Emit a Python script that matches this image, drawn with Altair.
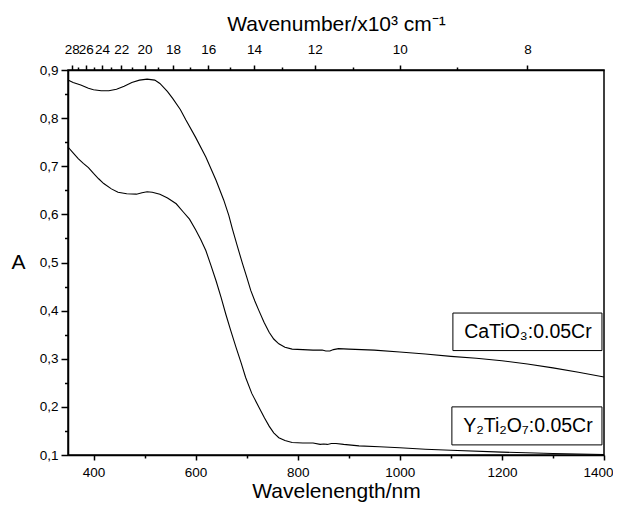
import altair as alt
import pandas as pd

# ---------------- data ----------------
ca_nm = [350, 360, 375, 390, 400, 415, 430, 445, 460, 475, 490, 505, 520, 530, 545, 555,
         570, 581, 600, 620, 640, 655, 665, 672, 682, 692, 700, 708, 716, 724, 734, 744,
         753, 763, 775, 789, 810, 830, 848, 855, 863, 870, 880, 900, 950, 1000, 1050,
         1100, 1150, 1200, 1250, 1300, 1350, 1400]
ca_a = [0.879, 0.874, 0.869, 0.862, 0.859, 0.857, 0.857, 0.860, 0.866, 0.874, 0.879, 0.881,
        0.879, 0.872, 0.855, 0.841, 0.818, 0.796, 0.760, 0.719, 0.671, 0.630, 0.598, 0.570,
        0.533, 0.497, 0.470, 0.442, 0.420, 0.400, 0.376, 0.355, 0.341, 0.331, 0.324, 0.320,
        0.319, 0.318, 0.318, 0.316, 0.316, 0.319, 0.321, 0.320, 0.318, 0.314, 0.310, 0.305,
        0.301, 0.296, 0.289, 0.281, 0.272, 0.262]

yt_nm = [350, 360, 370, 380, 390, 400, 410, 420, 435, 448, 465, 484, 495, 505, 515, 530,
         545, 562, 575, 588, 600, 610, 620, 630, 640, 650, 659, 669, 679, 689, 698, 710,
         724, 735, 744, 753, 763, 775, 789, 810, 830, 844, 851, 858, 866, 875, 890, 920,
         960, 1000, 1050, 1100, 1200, 1300, 1400]
yt_a = [0.740, 0.728, 0.716, 0.706, 0.697, 0.685, 0.674, 0.664, 0.653, 0.646, 0.643, 0.642,
        0.645, 0.647, 0.646, 0.642, 0.634, 0.622, 0.606, 0.590, 0.568, 0.548, 0.525, 0.494,
        0.462, 0.427, 0.393, 0.358, 0.324, 0.292, 0.261, 0.228, 0.199, 0.177, 0.160, 0.146,
        0.136, 0.130, 0.126, 0.125, 0.125, 0.122, 0.123, 0.122, 0.124, 0.124, 0.122, 0.119,
        0.117, 0.115, 0.112, 0.110, 0.106, 0.103, 0.101]

series_names = ["CaTiO\u2083:0.05Cr", "Y\u2082Ti\u2082O\u2087:0.05Cr"]

# axis ticks
bottom_ticks = [400, 500, 600, 700, 800, 900, 1000, 1100, 1200, 1300, 1400]
left_ticks = [0.1, 0.15, 0.2, 0.25, 0.3, 0.35, 0.4, 0.45, 0.5, 0.55, 0.6, 0.65, 0.7,
              0.75, 0.8, 0.85, 0.9]
top_major_wn = [28, 26, 24, 22, 20, 18, 16, 14, 12, 10, 8]
top_minor_wn = [27, 25, 23, 21, 19, 17, 15, 13, 11, 9]

# annotation boxes (data units)
label_x = [1251, 1251]
label_y = [0.356, 0.160]
box_x1 = [1104, 1102]
box_x2 = [1396, 1396]
box_y1 = [0.317, 0.121]
box_y2 = [0.395, 0.200]

# ---------------- build tables ----------------
df = pd.concat([
    pd.DataFrame({"nm": ca_nm, "A": ca_a, "series": series_names[0]}),
    pd.DataFrame({"nm": yt_nm, "A": yt_a, "series": series_names[1]}),
])
top_ticks = [10000.0 / w for w in top_major_wn + top_minor_wn]
ann = pd.DataFrame({"text": series_names, "x": label_x, "y": label_y,
                    "x1": box_x1, "x2": box_x2, "y1": box_y1, "y2": box_y2})

FONT = "Liberation Sans"
xscale = alt.Scale(domain=[350, 1400], nice=False, zero=False)
yscale = alt.Scale(domain=[0.1, 0.9], nice=False, zero=False)

common_axis = dict(labelFont=FONT, titleFont=FONT, labelFontSize=13.5, titleFontSize=21,
                   labelColor="black", titleColor="black", titleFontWeight="normal",
                   domainColor="black", domainWidth=1.5, tickColor="black",
                   tickWidth=1.5, grid=False, labelOverlap=False)

bottom_axis = alt.Axis(
    orient="bottom", values=bottom_ticks,
    labelExpr="datum.value % 200 == 0 ? format(datum.value, 'd') : ''",
    tickSize={"condition": {"test": "datum.value % 200 != 0", "value": 3}, "value": 5},
    labelPadding=5, labelFlush=True, labelFlushOffset=9,
    title="Wavelenength/nm", titleBaseline="alphabetic", titleY=42,
    **common_axis)

left_axis = alt.Axis(
    orient="left", values=left_ticks,
    labelExpr="abs(datum.value*10 - round(datum.value*10)) < 0.01 ? replace(format(datum.value, '.1f'), '.', ',') : ''",
    tickSize={"condition": {"test": "abs(datum.value*10 - round(datum.value*10)) > 0.01",
                            "value": 3.5}, "value": 7},
    labelPadding=3, labelFlush=False, title="A", titleAngle=0, titleX=-50, titleY=192,
    titleAlign="center", titleBaseline="middle", **common_axis)

top_axis = alt.Axis(
    orient="top", values=top_ticks,
    labelExpr="round(10000/datum.value) % 2 == 0 ? format(round(10000/datum.value), 'd') : ''",
    tickSize={"condition": {"test": "round(10000/datum.value) % 2 != 0", "value": 3},
              "value": 5},
    labelPadding=9, labelFlush=False,
    title="Wavenumber/x10\u00b3 cm\u207b\u00b9", titleBaseline="alphabetic", titleY=-40,
    **common_axis)

lines = alt.Chart(df).mark_line(color="black", strokeWidth=1.1).encode(
    x=alt.X("nm:Q", scale=xscale, axis=bottom_axis),
    y=alt.Y("A:Q", scale=yscale, axis=left_axis),
    detail="series:N",
)

top = alt.Chart(df).mark_line(opacity=0).encode(
    x=alt.X("nm:Q", scale=xscale, axis=top_axis),
    y=alt.Y("A:Q", scale=yscale, axis=None),
    detail="series:N",
)

boxes = alt.Chart(ann).mark_rect(fill="white", stroke="black", strokeWidth=1).encode(
    x=alt.X("x1:Q", scale=xscale, axis=None),
    x2="x2:Q",
    y=alt.Y("y1:Q", scale=yscale, axis=None),
    y2="y2:Q",
)

texts = alt.Chart(ann).mark_text(font=FONT, fontSize=19.5, color="black",
                                 align="center", baseline="middle").encode(
    x=alt.X("x:Q", scale=xscale, axis=None),
    y=alt.Y("y:Q", scale=yscale, axis=None),
    text="text:N",
)

chart = alt.layer(lines, top, boxes, texts).resolve_axis(
    x="independent", y="independent"
).properties(
    width=536, height=385,
    autosize=alt.AutoSizeParams(type="none"),
    padding={"left": 60, "top": 62, "right": 9, "bottom": 47},
    background="white",
).configure_view(stroke="black", strokeWidth=1.5)

chart.save("out.html", embed_options={"renderer": "svg", "actions": False})
